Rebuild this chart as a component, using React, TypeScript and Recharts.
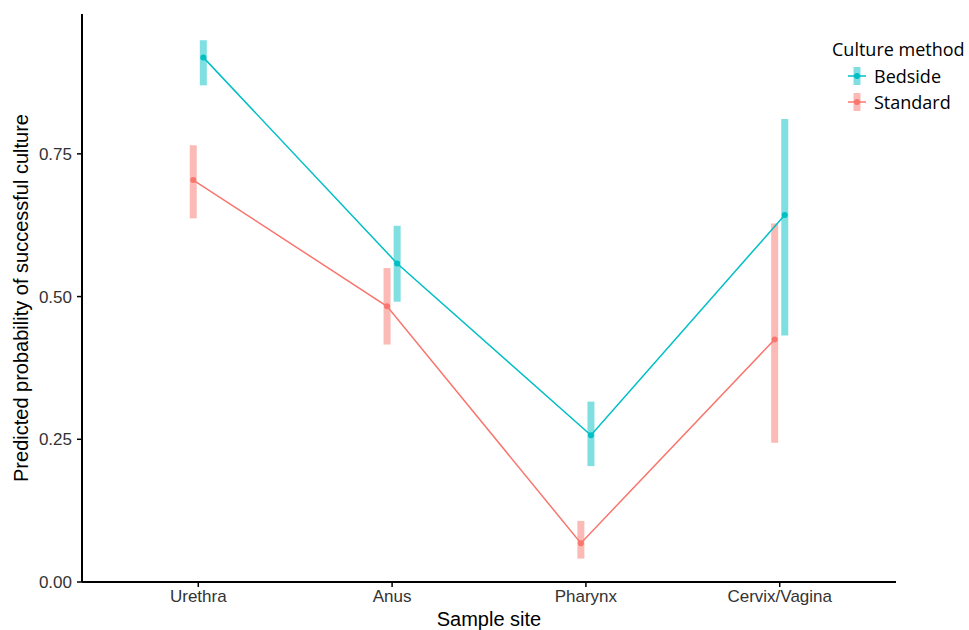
import { ComposedChart, ErrorBar, Legend, Scatter, XAxis, YAxis } from 'recharts';

const sites = ['Urethra', 'Anus', 'Pharynx', 'Cervix/Vagina'];
const yTicks = [0, 0.25, 0.5, 0.75];

const bedsideFit = [0.919, 0.558, 0.257, 0.643];
const bedsideLow = [0.87, 0.491, 0.203, 0.432];
const bedsideHigh = [0.949, 0.624, 0.316, 0.811];

const standardFit = [0.704, 0.483, 0.068, 0.425];
const standardLow = [0.637, 0.416, 0.041, 0.244];
const standardHigh = [0.765, 0.55, 0.107, 0.628];

const TEAL = '#00BFC4';
const SALMON = '#F8766D';
const DODGE = 0.026;
const FONT = '"Liberation Sans", Arial, sans-serif';

function build(fit, low, high, shift) {
	return sites.map((site, i) => ({
		site,
		x: i + 1 + shift,
		y: fit[i],
		err: [fit[i] - low[i], high[i] - fit[i]],
	}));
}

const bedside = build(bedsideFit, bedsideLow, bedsideHigh, DODGE);
const standard = build(standardFit, standardLow, standardHigh, -DODGE);

const legendItems = [
	{ name: 'Bedside', color: TEAL },
	{ name: 'Standard', color: SALMON },
];

function Dot(color) {
	return (props) => <circle cx={props.cx} cy={props.cy} r={3} fill={color} />;
}

function LegendBox() {
	return (
		<div style={{ fontFamily: '"Open Sans", sans-serif', color: '#000' }}>
			<div style={{ fontSize: 18, lineHeight: '28px' }}>Culture method</div>
			{legendItems.map((item) => (
				<div key={item.name} style={{ display: 'flex', alignItems: 'center', height: 26, fontSize: 18 }}>
					<svg width={22} height={22} style={{ marginLeft: 14, marginRight: 6 }}>
						<rect x={7.5} y={2} width={7} height={18} fill={item.color} fillOpacity={0.5} />
						<line x1={2} y1={11} x2={20} y2={11} stroke={item.color} strokeWidth={1.5} />
						<circle cx={11} cy={11} r={3} fill={item.color} />
					</svg>
					<span>{item.name}</span>
				</div>
			))}
		</div>
	);
}

export default function App() {
	return (
		<div style={{ position: 'absolute', left: 0, top: 0, background: '#fff' }}>
			<ComposedChart width={969} height={630} margin={{ top: 14, right: 73, bottom: 0, left: 0 }}>
				<XAxis
					type="number"
					dataKey="x"
					domain={[0.4, 4.6]}
					ticks={[1, 2, 3, 4]}
					tickFormatter={(v) => sites[Math.round(v) - 1]}
					height={48}
					allowDataOverflow
					axisLine={{ stroke: '#000', strokeWidth: 2 }}
					tickLine={{ stroke: '#000', strokeWidth: 1.5 }}
					tickSize={5}
					tickMargin={3}
					tick={{ fill: '#333', fontSize: 17, fontFamily: FONT }}
					label={{ value: 'Sample site', position: 'insideBottom', offset: 0, dy: -4, fill: '#000', fontSize: 20, fontFamily: FONT }}
				/>
				<YAxis
					type="number"
					dataKey="y"
					domain={[0, 0.995]}
					ticks={yTicks}
					tickFormatter={(v) => v.toFixed(2)}
					width={82}
					allowDataOverflow
					axisLine={{ stroke: '#000', strokeWidth: 2 }}
					tickLine={{ stroke: '#000', strokeWidth: 1.5 }}
					tickSize={5}
					tickMargin={5}
					tick={{ fill: '#333', fontSize: 17, fontFamily: FONT }}
					label={{ value: 'Predicted probability of successful culture', angle: -90, position: 'center', dx: -20, fill: '#000', fontSize: 20, fontFamily: FONT }}
				/>
				<Legend
					layout="vertical"
					align="center"
					verticalAlign="middle"
					content={() => <LegendBox />}
					wrapperStyle={{ position: 'absolute', left: 832, top: 35, width: 140 }}
				/>
				<Scatter
					name="Bedside"
					data={bedside}
					fill={TEAL}
					line={{ stroke: TEAL, strokeWidth: 1.5 }}
					lineType="joint"
					shape={Dot(TEAL)}
					isAnimationActive={false}
				>
					<ErrorBar dataKey="err" direction="y" width={0} stroke={TEAL} strokeWidth={7} strokeOpacity={0.5} />
				</Scatter>
				<Scatter
					name="Standard"
					data={standard}
					fill={SALMON}
					line={{ stroke: SALMON, strokeWidth: 1.5 }}
					lineType="joint"
					shape={Dot(SALMON)}
					isAnimationActive={false}
				>
					<ErrorBar dataKey="err" direction="y" width={0} stroke={SALMON} strokeWidth={7} strokeOpacity={0.5} />
				</Scatter>
			</ComposedChart>
		</div>
	);
}
